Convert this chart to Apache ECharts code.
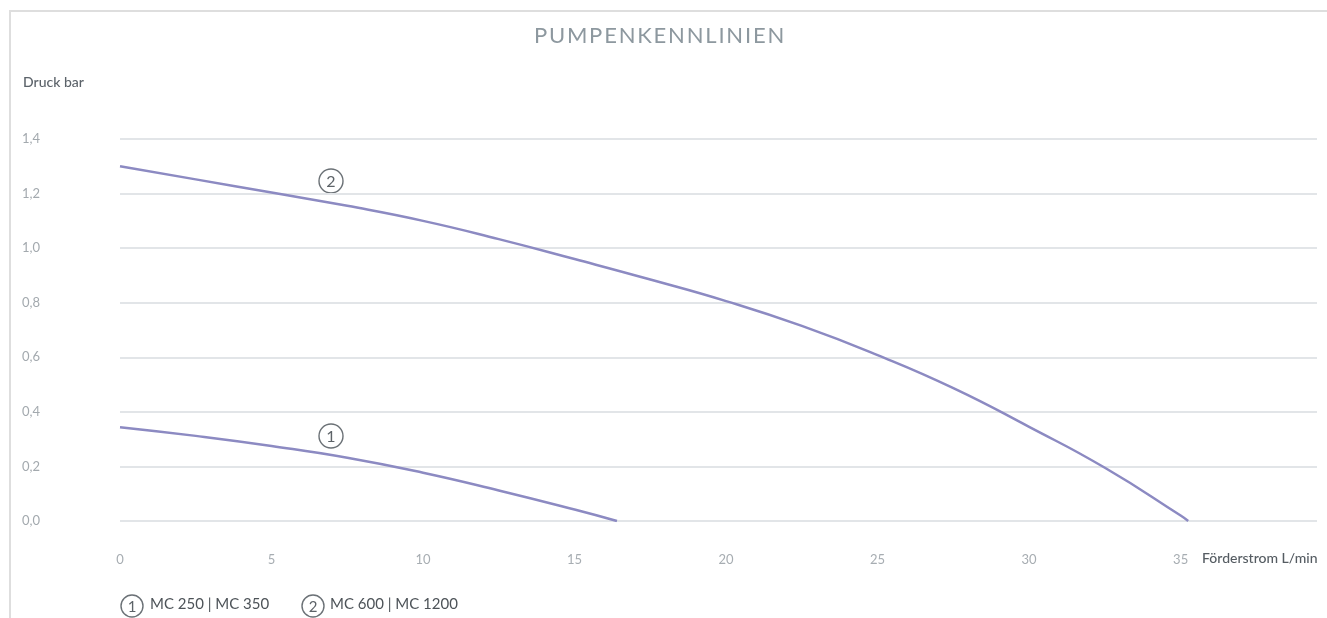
<!DOCTYPE html>
<html>
<head>
<meta charset="utf-8">
<title>Pumpenkennlinien</title>
<script src="https://cdn.jsdelivr.net/npm/echarts@6/dist/echarts.min.js"></script>
<style>
  html, body { margin: 0; padding: 0; background: #fff; }
  #chart { width: 1327px; height: 618px; }
</style>
</head>
<body>
<div id="chart"></div>
<script>
// pumpenkennlinien – Druck über Förderstrom
const xTicks = [0, 5, 10, 15, 20, 25, 30, 35];
const yTicks = [0, 0.2, 0.4, 0.6, 0.8, 1.0, 1.2, 1.4];

// Kennlinie 1: MC 250 | MC 350  [L/min, bar]
const curve1 = [
	[0, 0.344], [2.5, 0.312], [5, 0.275], [7.5, 0.232], [10, 0.177],
	[12.5, 0.112], [15, 0.042], [16.4, 0],
];
// Kennlinie 2: MC 600 | MC 1200
const curve2 = [
	[0, 1.3], [2.5, 1.252], [5, 1.204], [7.5, 1.155], [10, 1.1], [12.5, 1.033],
	[15, 0.96], [17.5, 0.885], [20, 0.806], [22.5, 0.715], [25, 0.608], [27.5, 0.487],
	[30, 0.345], [32.5, 0.195], [35, 0.02], [35.25, 0],
];

const legendNames = ['MC 250 | MC 350', 'MC 600 | MC 1200'];
const titleText = 'PUMPENKENNLINIEN';

const FONT = 'Lato, "Open Sans", sans-serif';
const lineColor = '#8c8ac2';

const circled = (cx, cy, num, r) => ({
	type: 'group',
	children: [
		{ type: 'circle', shape: { cx: cx, cy: cy, r: r }, style: { fill: '#fff', stroke: '#6b7176', lineWidth: 1.4 } },
		{ type: 'text', x: cx, y: cy + 1, style: { text: String(num), fill: '#5d6368', font: (r > 11 ? 16 : 15) + 'px ' + FONT, align: 'center', verticalAlign: 'middle' } },
	],
});

const chart = echarts.init(document.getElementById('chart'));

chart.setOption({
	backgroundColor: '#fff',
	animation: false,
	title: {
		// buchstaben etwas gesperrt
		text: titleText.split('').map((c) => '{l|' + c + '}').join(''),
		left: 528,
		top: 20,
		textStyle: {
			fontWeight: 'normal',
			rich: {
				l: { color: '#8d989f', fontFamily: FONT, fontSize: 22, fontWeight: 'normal', padding: [0, 0.9] },
			},
		},
	},
	grid: { left: 120, right: 10, top: 139, bottom: 97 },
	xAxis: {
		type: 'value',
		min: 0,
		max: 39.5,
		interval: 5,
		axisLine: { show: false },
		axisTick: { show: false },
		splitLine: { show: false },
		axisLabel: {
			margin: 32,
			color: '#a7adb2',
			fontFamily: FONT,
			fontSize: 13,
			showMaxLabel: false,
			formatter: (v) => (xTicks.indexOf(v) >= 0 ? String(v) : ''),
		},
	},
	yAxis: {
		type: 'value',
		min: yTicks[0],
		max: yTicks[yTicks.length - 1],
		interval: 0.2,
		axisLine: { show: false },
		axisTick: { show: false },
		splitLine: { lineStyle: { color: '#e2e5e8', width: 2 } },
		axisLabel: {
			align: 'left',
			margin: 98,
			color: '#a3a9ae',
			fontFamily: FONT,
			fontSize: 13,
			formatter: (v) => v.toFixed(1).replace('.', ','),
		},
	},
	series: [
		{
			name: legendNames[0],
			type: 'line',
			data: curve1,
			smooth: true,
			symbol: 'none',
			lineStyle: { color: lineColor, width: 2.5 },
		},
		{
			name: legendNames[1],
			type: 'line',
			data: curve2,
			smooth: true,
			symbol: 'none',
			lineStyle: { color: lineColor, width: 2.5 },
		},
	],
	graphic: [
		// rahmen
		{ type: 'rect', shape: { x: 10, y: 11, width: 1400, height: 700 }, style: { fill: 'none', stroke: '#dedede', lineWidth: 2 }, z: -1 },
		{ type: 'text', left: 23, top: 75, style: { text: 'Druck bar', fill: '#5c636a', font: '500 14px ' + FONT } },
		{ type: 'text', left: 1202, top: 551, style: { text: 'Förderstrom L/min', fill: '#555c62', font: '500 14px ' + FONT } },
		circled(331, 181, 2, 12),
		circled(331, 436, 1, 12),
		// legende unten
		circled(132, 606, 1, 11),
		{ type: 'text', left: 150, top: 597, style: { text: legendNames[0], fill: '#4d5358', font: '15px ' + FONT } },
		circled(313, 606, 2, 11),
		{ type: 'text', left: 330, top: 597, style: { text: legendNames[1], fill: '#4d5358', font: '15px ' + FONT } },
	],
});
</script>
</body>
</html>
